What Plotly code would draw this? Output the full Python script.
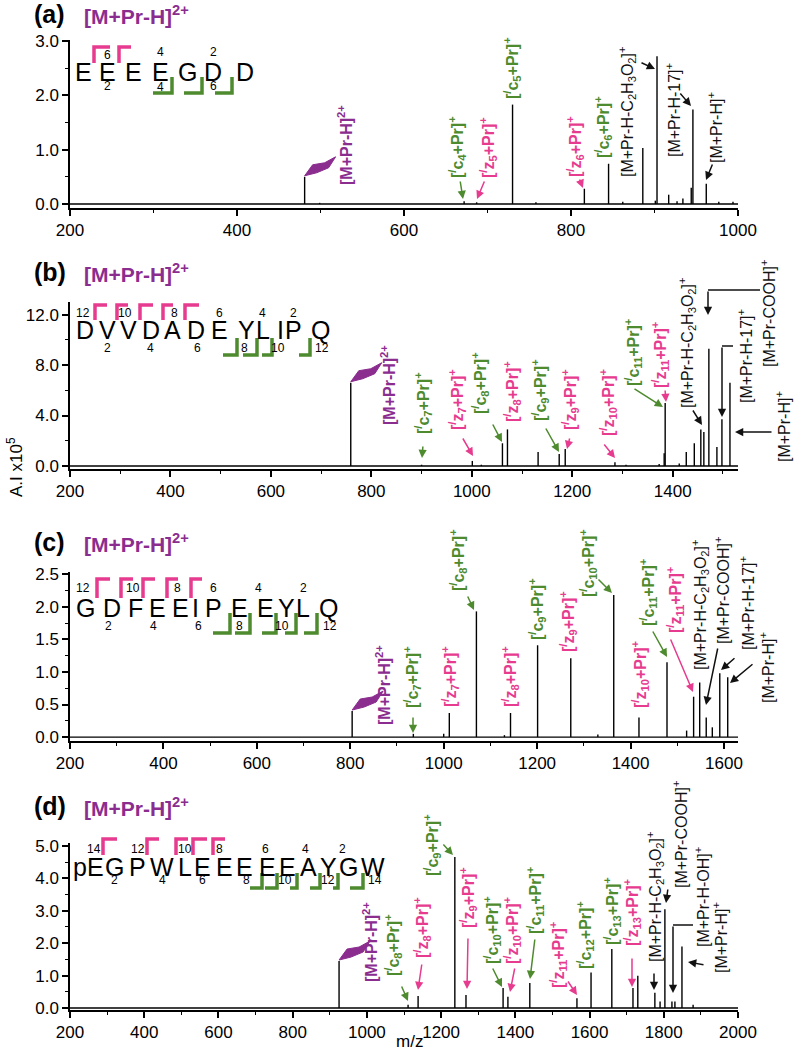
import plotly.graph_objects as go

OX, OY = 0, 0                      # figure offset on the page (body margin removed below)
W, H = 796 - OX, 1050 - OY         # figure size
FONT = "Arial, Liberation Sans, sans-serif"
PINK = "#E63B8E"
GREEN = "#4E8A2E"
PURPLE = "#8B2C8F"
BLACK = "#111111"
COL = {"p": PINK, "g": GREEN, "u": PURPLE, "k": BLACK}

# ---------------- data ----------------
mz_a = [481, 499, 672, 687, 730, 758, 816, 845, 862, 886, 901, 903, 917, 927, 934, 944, 946, 962, 977, 994]
int_a = [0.50, 0.02, 0.05, 0.03, 1.83, 0.03, 0.28, 0.74, 0.04, 1.03, 0.06, 2.72, 0.17, 0.05, 0.10, 0.30, 1.74, 0.37, 0.04, 0.04]

mz_b = [759, 900, 1001, 1019, 1061, 1071, 1132, 1174, 1186, 1285, 1307, 1373, 1383, 1385, 1413, 1427, 1443, 1456, 1462, 1472, 1488, 1498, 1514]
int_b = [6.6, 0.1, 0.4, 0.1, 1.8, 2.9, 1.1, 0.95, 1.35, 0.3, 0.1, 0.15, 1.0, 5.0, 0.2, 1.1, 1.8, 2.9, 2.7, 9.3, 1.5, 3.7, 6.6]

mz_c = [804, 935, 1000, 1012, 1070, 1130, 1143, 1201, 1272, 1330, 1364, 1418, 1478, 1520, 1535, 1548, 1562, 1575, 1591, 1608]
int_c = [0.40, 0.05, 0.05, 0.37, 1.93, 0.03, 0.37, 1.41, 1.21, 0.04, 2.18, 0.30, 1.15, 0.10, 0.62, 0.84, 0.30, 0.15, 0.98, 0.92]

mz_d = [925, 1111, 1138, 1237, 1267, 1367, 1380, 1439, 1566, 1604, 1660, 1717, 1730, 1776, 1790, 1803, 1822, 1830, 1849, 1879]
int_d = [1.45, 0.10, 0.37, 4.66, 0.40, 0.62, 0.35, 0.77, 0.30, 1.10, 1.82, 0.62, 1.00, 0.47, 0.20, 3.05, 0.20, 0.20, 1.90, 0.10]

x_ticks_a = [200, 400, 600, 800, 1000]
x_ticks_b = [200, 400, 600, 800, 1000, 1200, 1400]
x_ticks_c = [200, 400, 600, 800, 1000, 1200, 1400, 1600]
x_ticks_d = [200, 400, 600, 800, 1000, 1200, 1400, 1600, 1800, 2000]
y_ticks_a = [0.0, 1.0, 2.0, 3.0]
y_ticks_b = [0.0, 4.0, 8.0, 12.0]
y_ticks_c = [0.0, 0.5, 1.0, 1.5, 2.0, 2.5]
y_ticks_d = [0.0, 1.0, 2.0, 3.0, 4.0, 5.0]

seq_a = ["E", "E", "E", "E", "G", "D", "D"]
seq_b = ["D", "V", "V", "D", "A", "D", "E", "Y", "L", "I", "P", "Q"]
seq_c = ["G", "D", "F", "E", "E", "I", "P", "E", "E", "Y", "L", "Q"]
seq_d = ["pE", "G", "P", "W", "L", "E", "E", "E", "E", "E", "A", "Y", "G", "W"]

# ---------------- layout geometry (window pixels) ----------------
XL, XR = 70, 738
panels = [
    dict(k="a", mz=mz_a, it=int_a, xr=[200, 1000], yr=[-0.075, 3.02], top=40, bot=208,
         xt=x_ticks_a, yt=y_ticks_a, ymin=0.5, tag_y=14),
    dict(k="b", mz=mz_b, it=int_b, xr=[200, 1530], yr=[-0.24, 13.0], top=302, bot=469,
         xt=x_ticks_b, yt=y_ticks_b, ymin=2.0, tag_y=272),
    dict(k="c", mz=mz_c, it=int_c, xr=[200, 1630], yr=[-0.06, 2.535], top=572, bot=741,
         xt=x_ticks_c, yt=y_ticks_c, ymin=0.25, tag_y=542),
    dict(k="d", mz=mz_d, it=int_d, xr=[200, 2000], yr=[-0.06, 5.09], top=843, bot=1010,
         xt=x_ticks_d, yt=y_ticks_d, ymin=0.5, tag_y=806),
]


def P(px, py):
    return (px - OX) / W, 1 - (py - OY) / H


def to_px(p, m, h):
    x0, x1 = p["xr"]
    y0, y1 = p["yr"]
    px = XL + (m - x0) / (x1 - x0) * (XR - XL)
    py = p["bot"] - (h - y0) / (y1 - y0) * (p["bot"] - p["top"])
    return px, py


fig = go.Figure()
layout = dict(width=W, height=H, margin=dict(l=0, r=0, t=0, b=0, pad=0, autoexpand=False),
              paper_bgcolor="white", plot_bgcolor="white", showlegend=False,
              font=dict(family=FONT, color="black"))
annotations = []
shapes = []

for i, p in enumerate(panels):
    n = "" if i == 0 else str(i + 1)
    xs = [p["xr"][0], p["xr"][1], None]
    ys = [0, 0, None]
    for m, h in zip(p["mz"], p["it"]):
        xs += [m, m, None]
        ys += [0, h, None]
    fig.add_trace(go.Scatter(x=xs, y=ys, mode="lines", line=dict(color="black", width=1.4),
                             xaxis="x" + n, yaxis="y" + n, hoverinfo="skip"))
    xd0, _ = P(XL, 0)
    xd1, _ = P(XR, 0)
    _, yd0 = P(0, p["bot"])
    _, yd1 = P(0, p["top"])
    layout["xaxis" + n] = dict(
        domain=[xd0, xd1], range=p["xr"], anchor="y" + n, automargin=False,
        showline=True, linecolor="black", linewidth=1.5, showgrid=False, zeroline=False,
        ticks="outside", ticklen=6, tickwidth=1.5, tickcolor="black",
        tickvals=p["xt"], ticktext=[str(v) for v in p["xt"]],
        minor=dict(ticks="outside", ticklen=3.5, tickwidth=1.2, tickcolor="black", dtick=100, tick0=200, showgrid=False),
        tickfont=dict(size=17, family=FONT, color="black"))
    layout["yaxis" + n] = dict(
        domain=[yd0, yd1], range=p["yr"], anchor="x" + n, automargin=False,
        showline=True, linecolor="black", linewidth=1.5, showgrid=False, zeroline=False,
        ticks="outside", ticklen=6, tickwidth=1.5, tickcolor="black",
        tickvals=p["yt"], ticktext=["%.1f" % v for v in p["yt"]],
        minor=dict(ticks="outside", ticklen=3.5, tickwidth=1.2, tickcolor="black", dtick=p["ymin"], tick0=0, showgrid=False),
        tickfont=dict(size=17, family=FONT, color="black"))
    # panel tag and precursor title
    x, y = P(50, p["tag_y"])
    annotations.append(dict(text="<b>(%s)</b>" % p["k"], x=x, y=y, xref="paper", yref="paper",
                            showarrow=False, xanchor="center", yanchor="middle",
                            font=dict(size=25, family=FONT, color="black")))
    x, y = P(82, p["tag_y"] + 1)
    annotations.append(dict(text="<b>[M+Pr-H]<sup>2+</sup></b>", x=x, y=y, xref="paper", yref="paper",
                            showarrow=False, xanchor="left", yanchor="middle",
                            font=dict(size=21, family=FONT, color=PURPLE)))
    # purple wedge at precursor peak
    bx, by = to_px(p, p["mz"][0], p["it"][0])
    pts = [(0, -1), (8, -12), (20, -14), (31, -20), (24, -9), (12, -4)]
    path = "M " + " L ".join("%.5f,%.5f" % P(bx + dx, by + dy) for dx, dy in pts) + " Z"
    shapes.append(dict(type="path", path=path, xref="paper", yref="paper",
                       fillcolor=PURPLE, line=dict(color=PURPLE, width=1)))


def frag(kind, n):
    return "<b>[<sup>/</sup>%s<sub>%d</sub>+Pr]<sup>+</sup></b>" % (kind, n)


PRE = "<b>[M+Pr-H]<sup>2+</sup></b>"
LOSS_AC = "[M+Pr-H-C<sub>2</sub>H<sub>3</sub>O<sub>2</sub>]<sup>+</sup>"
LOSS_17 = "[M+Pr-H-17]<sup>+</sup>"
LOSS_CO = "[M+Pr-COOH]<sup>+</sup>"
LOSS_OH = "[M+Pr-H-OH]<sup>+</sup>"
MH = "[M+Pr-H]<sup>+</sup>"

# (text, cx, cy, colour)
labels = [
    # a
    (PRE, 345, 145, "u"), (frag("c", 4), 457, 147, "g"), (frag("z", 5), 488, 148, "p"),
    (frag("c", 5), 512, 68, "g"), (frag("z", 6), 575, 147, "p"), (frag("c", 6), 603, 127, "g"),
    (LOSS_AC, 627, 112, "k"), (LOSS_17, 673, 110, "k"), (MH, 715, 128, "k"),
    # b
    (PRE, 388, 385, "u"), (frag("c", 7), 423, 403, "g"), (frag("z", 7), 457, 400, "p"),
    (frag("c", 8), 480, 383, "g"), (frag("z", 8), 512, 392, "p"), (frag("c", 9), 540, 390, "g"),
    (frag("z", 9), 570, 400, "p"), (frag("z", 10), 608, 403, "p"), (frag("c", 11), 633, 352, "g"),
    (frag("z", 11), 660, 355, "p"), (LOSS_AC, 687, 343, "k"), (LOSS_CO, 768, 314, "k"),
    (LOSS_17, 745, 356, "k"), (MH, 783, 427, "k"),
    # c
    (PRE, 383, 685, "u"), (frag("c", 7), 412, 677, "g"), (frag("z", 7), 450, 676, "p"),
    (frag("c", 8), 458, 560, "g"), (frag("z", 8), 510, 677, "p"), (frag("c", 9), 537, 609, "g"),
    (frag("z", 9), 568, 622, "p"), (frag("c", 10), 588, 563, "g"), (frag("z", 10), 640, 675, "p"),
    (frag("c", 11), 648, 592, "g"), (frag("z", 11), 675, 600, "p"), (LOSS_AC, 700, 605, "k"),
    (LOSS_CO, 722, 591, "k"), (LOSS_17, 747, 603, "k"), (MH, 767, 668, "k"),
    # d
    (PRE, 370, 942, "u"), (frag("c", 8), 393, 945, "g"), (frag("z", 8), 422, 928, "p"),
    (frag("c", 9), 432, 845, "g"), (frag("z", 9), 468, 898, "p"), (frag("c", 10), 492, 930, "g"),
    (frag("z", 10), 512, 931, "p"), (frag("c", 11), 535, 900, "g"), (frag("z", 11), 558, 955, "p"),
    (frag("c", 12), 585, 935, "g"), (frag("c", 13), 612, 911, "g"), (frag("z", 13), 632, 913, "p"),
    (LOSS_AC, 655, 897, "k"), (LOSS_CO, 680, 835, "k"), (LOSS_OH, 702, 897, "k"), (MH, 720, 938, "k"),
]
for t, cx, cy, c in labels:
    x, y = P(cx, cy)
    annotations.append(dict(text=t, x=x, y=y, xref="paper", yref="paper", textangle=-90,
                            showarrow=False, xanchor="center", yanchor="middle",
                            font=dict(size=16, family=FONT, color=COL[c])))

# arrows: (tail px, tip px, colour)
arrows = [
    ((460, 180), (463, 199), "g"), ((485, 180), (477, 199), "p"), ((579, 178), (583, 188), "p"),
    ((640, 62), (655, 69), "k"), ((679, 92), (691, 106), "k"), ((713, 163), (706, 180), "k"),
    ((423, 445), (422, 458), "g"), ((462, 437), (473, 456), "p"), ((492, 423), (502, 442), "g"),
    ((545, 427), (559, 452), "g"), ((570, 437), (567, 449), "p"), ((603, 443), (615, 458), "p"),
    ((633, 388), (663, 407), "g"), ((665, 389), (666, 402), "p"), ((692, 409), (702, 425), "k"),
    ((708, 290), (708, 315), "k"), ((722, 346), (722, 417), "k"), ((773, 432), (735, 432), "k"),
    ((413, 716), (413, 733), "g"), ((467, 595), (474, 610), "g"), ((597, 578), (612, 593), "g"),
    ((652, 630), (667, 657), "g"), ((670, 638), (693, 692), "p"), ((718, 647), (706, 705), "k"),
    ((736, 657), (721, 670), "k"), ((754, 663), (730, 683), "k"),
    ((401, 985), (408, 1001), "g"), ((422, 963), (418, 990), "p"), ((442, 843), (453, 855), "g"),
    ((468, 937), (467, 989), "p"), ((492, 967), (502, 987), "g"), ((515, 967), (510, 992), "p"),
    ((535, 938), (530, 979), "g"), ((567, 980), (577, 995), "p"), ((632, 957), (632, 987), "p"),
    ((654, 972), (654, 990), "k"), ((668, 888), (666, 903), "k"), ((673, 925), (673, 993), "k"),
    ((705, 965), (688, 962), "k"),
]
for (tx, ty), (hx, hy), c in arrows:
    x, y = P(hx, hy)
    annotations.append(dict(text="", x=x, y=y, xref="paper", yref="paper", ax=tx - hx, ay=ty - hy,
                            showarrow=True, arrowhead=2, arrowsize=1.1, arrowwidth=1.5,
                            arrowcolor=COL[c]))

# elbow connector segments
for (x0, y0), (x1, y1) in [((760, 290), (708, 290)), ((733, 346), (722, 346)), ((693, 925), (673, 925))]:
    a0, b0 = P(x0, y0)
    a1, b1 = P(x1, y1)
    shapes.append(dict(type="line", x0=a0, y0=b0, x1=a1, y1=b1, xref="paper", yref="paper",
                       line=dict(color=BLACK, width=1.5)))

# ---------------- peptide sequences ----------------
seqs = [
    dict(s=seq_a, xs=[83, 107, 133, 160, 187, 213, 245], y=72,
         top=[("6", 107, 55), ("4", 160, 52), ("2", 213, 52)],
         bottom=[("2", 107, 86), ("4", 160, 87), ("6", 213, 86)],
         pink=[(94, 110, 47, 63), (119, 131, 47, 63)],
         green=[(153, 172, 77, 93), (184, 202, 77, 93), (215, 232, 77, 93)]),
    dict(s=seq_b, xs=[85, 107, 128, 151, 172, 196, 219, 246, 263, 280, 293, 320], y=330,
         top=[("12", 83, 313), ("10", 125, 313), ("8", 174, 313), ("6", 220, 313), ("4", 262, 313), ("2", 293, 313)],
         bottom=[("2", 107, 348), ("4", 150, 348), ("6", 197, 348), ("8", 245, 348), ("10", 278, 348), ("12", 322, 348)],
         pink=[(95, 107, 305, 320), (117, 128, 305, 320), (140, 153, 305, 320), (163, 173, 305, 320), (185, 199, 305, 320)],
         green=[(223, 237, 338, 355), (243, 257, 338, 355), (262, 272, 338, 355), (299, 310, 338, 355)]),
    dict(s=seq_c, xs=[85, 112, 135, 157, 180, 195, 213, 240, 265, 286, 303, 328], y=608,
         top=[("12", 83, 588), ("10", 133, 588), ("8", 177, 588), ("6", 213, 588), ("4", 258, 588), ("2", 303, 588)],
         bottom=[("2", 108, 626), ("4", 153, 626), ("6", 198, 626), ("8", 239, 626), ("10", 282, 626), ("12", 330, 626)],
         pink=[(97, 110, 579, 598), (121, 133, 579, 598), (143, 155, 579, 598), (167, 178, 579, 598), (191, 202, 579, 598)],
         green=[(213, 230, 613, 633), (235, 250, 613, 633), (262, 276, 613, 633), (285, 296, 613, 633), (304, 317, 613, 633)]),
    dict(s=seq_d, xs=[88, 115, 137, 162, 185, 202, 225, 245, 267, 287, 308, 328, 348, 373], y=867,
         top=[("14", 94, 849), ("12", 138, 849), ("10", 185, 849), ("8", 220, 849), ("6", 265, 849), ("4", 305, 849), ("2", 342, 849)],
         bottom=[("2", 115, 880), ("4", 162, 880), ("6", 202, 880), ("8", 246, 880), ("10", 285, 880), ("12", 328, 880), ("14", 375, 880)],
         pink=[(103, 117, 839, 855), (147, 159, 839, 855), (176, 188, 839, 855), (193, 207, 839, 855), (213, 225, 839, 855)],
         green=[(250, 262, 873, 888), (265, 277, 873, 888), (290, 297, 873, 888), (310, 320, 873, 888), (333, 338, 873, 888), (350, 363, 873, 888)]),
]
for sq in seqs:
    for ch, cx in zip(sq["s"], sq["xs"]):
        x, y = P(cx, sq["y"])
        annotations.append(dict(text=ch, x=x, y=y, xref="paper", yref="paper", showarrow=False,
                                xanchor="center", yanchor="middle",
                                font=dict(size=25, family=FONT, color="black")))
    for t, cx, cy in sq["top"] + sq["bottom"]:
        x, y = P(cx, cy)
        annotations.append(dict(text=t, x=x, y=y, xref="paper", yref="paper", showarrow=False,
                                xanchor="center", yanchor="middle",
                                font=dict(size=12, family=FONT, color="black")))
    for x0, x1, yt, yb in sq["pink"]:
        path = "M %.5f,%.5f L %.5f,%.5f L %.5f,%.5f" % (*P(x0, yb), *P(x0, yt), *P(x1, yt))
        shapes.append(dict(type="path", path=path, xref="paper", yref="paper",
                           line=dict(color=PINK, width=3.5)))
    for x0, x1, yt, yb in sq["green"]:
        path = "M %.5f,%.5f L %.5f,%.5f L %.5f,%.5f" % (*P(x0, yb), *P(x1, yb), *P(x1, yt))
        shapes.append(dict(type="path", path=path, xref="paper", yref="paper",
                           line=dict(color=GREEN, width=3.5)))

# axis titles
x, y = P(15, 467)
annotations.append(dict(text="A.I x10<sup>5</sup>", x=x, y=y, xref="paper", yref="paper", textangle=-90,
                        showarrow=False, xanchor="center", yanchor="middle",
                        font=dict(size=17, family=FONT, color="black")))
x, y = P(409, 1041)
annotations.append(dict(text="m/z", x=x, y=y, xref="paper", yref="paper",
                        showarrow=False, xanchor="center", yanchor="middle",
                        font=dict(size=17, family=FONT, color="black")))

layout["annotations"] = annotations
layout["shapes"] = shapes
fig.update_layout(**layout)
fig.write_html("out.html", config={"displayModeBar": False},
               post_script="document.body.style.margin='0px';document.body.style.padding='0px';"
                           "document.body.style.overflow='hidden';")
